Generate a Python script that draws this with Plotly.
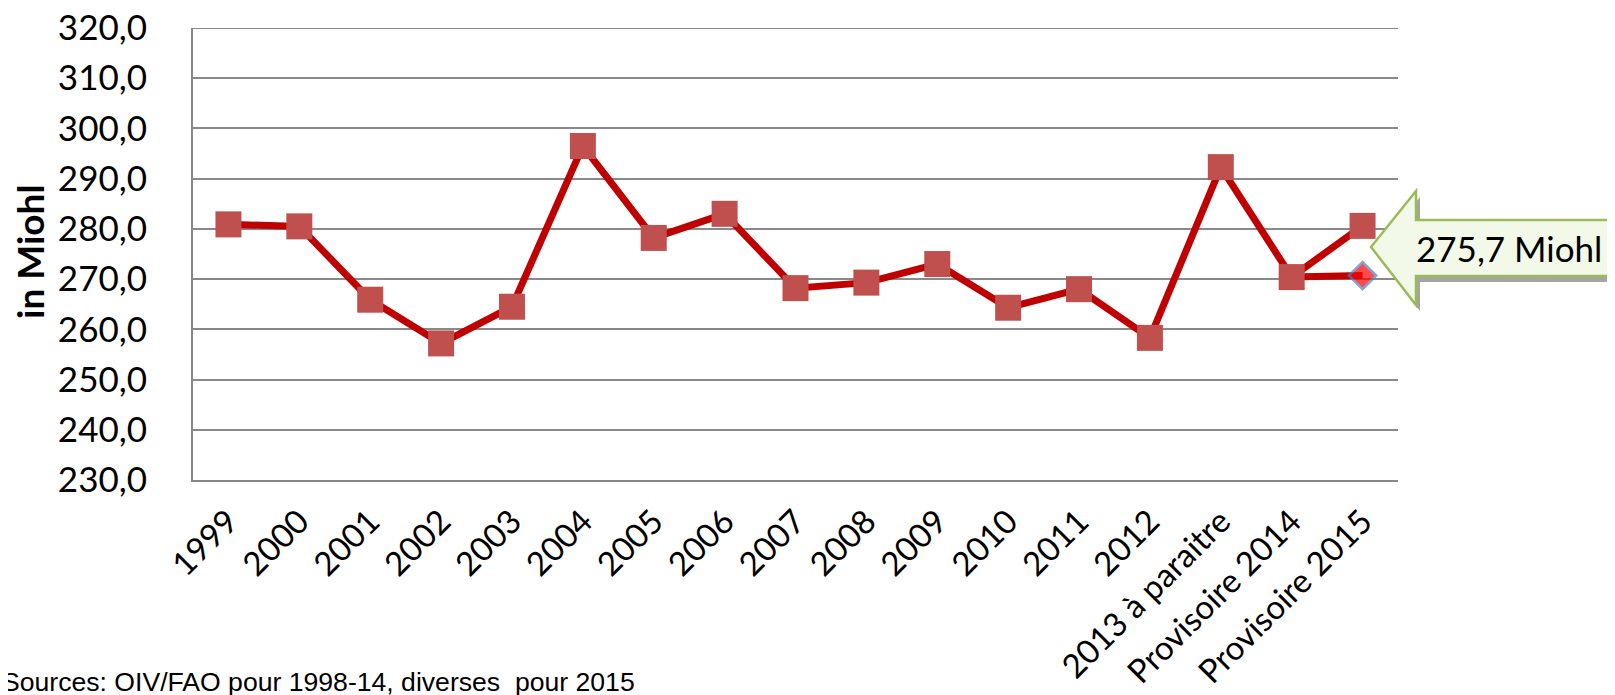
import plotly.graph_objects as go

categories = ["1999", "2000", "2001", "2002", "2003", "2004", "2005", "2006", "2007",
              "2008", "2009", "2010", "2011", "2012", "2013 à paraitre",
              "Provisoire 2014", "Provisoire 2015"]
production = [280.9, 280.5, 265.9, 257.2, 264.5, 296.5, 278.2, 283.0, 268.2,
              269.3, 273.0, 264.3, 268.0, 258.3, 292.3, 270.4, 280.6]
alt_categories = ["Provisoire 2014", "Provisoire 2015"]
alt_values = [270.4, 270.7]
callout_text = "275,7 Miohl"
y_title = "in Miohl"
source_text = "Sources: OIV/FAO pour 1998-14, diverses  pour 2015"
y_min, y_max = 230, 320

# page body has an 8px default margin: figure is placed at (8, 8)
OFF = 8
W, H = 1615 - OFF, 695 - OFF
L, R, T, B = 193 - OFF, 1398 - OFF, 28 - OFF, 480 - OFF


def px(x):
    return (x - OFF - L) / (R - L)


def py(y):
    return (B - (y - OFF)) / (B - T)


fig = go.Figure()

fig.add_trace(go.Scatter(
    x=alt_categories, y=alt_values, mode="lines+markers",
    line=dict(color="#C00000", width=7),
    marker=dict(symbol="diamond", size=[0, 21], color="#FF0000",
                line=dict(color="#4F81BD", width=2.5)),
    showlegend=False, hoverinfo="x+y",
))

fig.add_trace(go.Scatter(
    x=categories, y=production, mode="lines+markers",
    line=dict(color="#C00000", width=7),
    marker=dict(symbol="square", size=26, color="#C0504D",
                line=dict(color="#C0504D", width=0)),
    showlegend=False, hoverinfo="x+y",
))

# callout arrow (shadow + body)
pts = [(1371, 247), (1416, 191), (1416, 220), (1640, 220), (1640, 276),
       (1416, 276), (1416, 305)]


def path_from(points, dx=0, dy=0):
    s = "M " + " L ".join(f"{px(x + dx):.5f},{py(y + dy):.5f}" for x, y in points)
    return s + " Z"


shapes = [
    # top gridline (plotly omits the one on the range edge)
    dict(type="line", xref="paper", yref="y", x0=0, x1=1, y0=y_max, y1=y_max,
         line=dict(color="#898989", width=2), layer="below"),
    dict(type="path", xref="paper", yref="paper", path=path_from(pts, 4, 6),
         fillcolor="rgba(90,90,90,0.55)", line=dict(width=0), layer="above"),
    dict(type="path", xref="paper", yref="paper", path=path_from(pts),
         fillcolor="#F2F9E8", line=dict(color="#9BBB59", width=2.5), layer="above"),
]

annotations = [
    dict(text=callout_text, xref="paper", yref="paper", x=px(1509), y=py(248),
         xanchor="center", yanchor="middle", showarrow=False,
         font=dict(family="Lato", size=35, color="#000000")),
    dict(text=f"<b>{y_title}</b>", xref="paper", yref="paper", x=px(29), y=py(252),
         xanchor="center", yanchor="middle", textangle=-90, showarrow=False,
         font=dict(family="Lato", size=37, color="#000000")),
    dict(text=source_text, xref="paper", yref="paper", x=px(637), y=py(682),
         xanchor="right", yanchor="middle", showarrow=False,
         font=dict(family="Liberation Sans", size=26.6, color="#000000")),
]

fig.update_layout(
    width=W, height=H,
    margin=dict(l=L, r=W - R, t=T, b=H - B, pad=0, autoexpand=False),
    paper_bgcolor="white", plot_bgcolor="white",
    separators=", ",
    shapes=shapes, annotations=annotations,
    font=dict(family="Lato", size=33, color="#000000"),
    showlegend=False,
)

fig.update_yaxes(
    range=[y_min, y_max], dtick=10, tick0=y_min, tickformat=".1f",
    showgrid=True, gridcolor="#898989", gridwidth=2,
    showline=True, linecolor="#898989", linewidth=2,
    ticks="", ticklabelstandoff=37, ticklabeloverflow="allow", automargin=False,
    tickfont=dict(family="Lato", size=35, color="#000000"),
    zeroline=False, fixedrange=True,
)
fig.update_xaxes(
    type="category", categoryorder="array", categoryarray=categories,
    range=[-0.5, len(categories) - 0.5],
    showgrid=False, showline=True, linecolor="#898989", linewidth=2,
    ticks="", tickangle=-45, ticklabelstandoff=7, automargin=False,
    ticklabeloverflow="allow",
    tickfont=dict(family="Lato", size=33, color="#000000"),
    zeroline=False, fixedrange=True,
)

fig.write_html("out.html")
